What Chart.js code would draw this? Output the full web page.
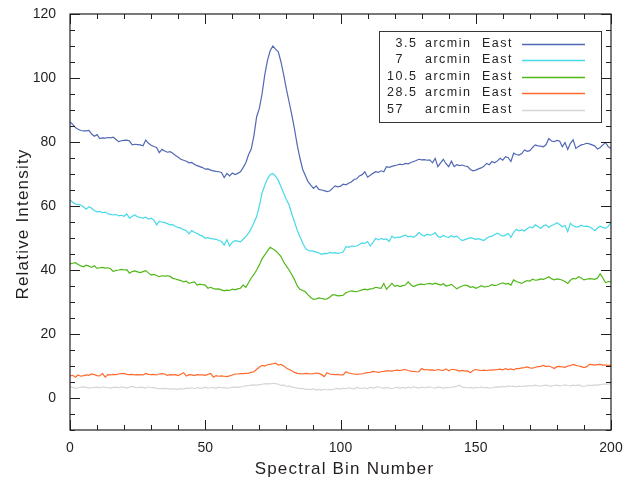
<!DOCTYPE html>
<html>
<head>
<meta charset="utf-8">
<script src="https://cdn.jsdelivr.net/npm/chart.js@4/dist/chart.umd.min.js"></script>
<style>
    html, body { margin: 0; padding: 0; background: #ffffff; }
    #spectra { display: block; }
</style>
</head>
<body>
<canvas id="spectra" width="623" height="483"></canvas>
<script>
// --- 1. DADOS ---

// bins espectrais 0..200
const bins = Array.from({ length: 201 }, (_, i) => i);

const distances = ['3.5', '7', '10.5', '28.5', '57'];

const east35 = [
    86.3, 85.5, 84.5, 84.0, 83.6, 83.5, 83.5, 83.6, 82.5, 81.8,
    82.3, 81.1, 81.3, 81.2, 81.4, 81.3, 81.5, 80.8, 80.1, 80.4,
    80.5, 80.6, 80.3, 79.1, 79.3, 79.2, 79.1, 78.8, 80.6, 79.6,
    79.0, 78.6, 78.3, 76.7, 77.7, 77.2, 76.8, 77.0, 76.5, 75.8,
    75.2, 74.6, 74.3, 74.0, 73.5, 73.6, 73.0, 72.6, 72.3, 72.0,
    71.5, 71.6, 71.2, 71.0, 70.8, 70.7, 70.5, 68.9, 70.2, 69.4,
    70.3, 69.8, 70.2, 70.7, 72.0, 73.5, 76.0, 77.8, 82.0, 87.9,
    90.5, 95.0, 101.0, 105.5, 108.5, 110.0, 109.0, 108.2, 105.0, 101.0,
    96.5, 92.5, 88.5, 84.0, 79.0, 75.0, 71.5, 69.5, 67.6, 66.5,
    65.5, 66.3, 65.2, 65.0, 64.8, 64.5, 64.7, 65.5, 66.3, 66.0,
    66.2, 66.8, 66.6, 67.1, 67.5, 68.3, 68.5, 69.4, 69.8, 70.7,
    69.0, 69.6, 70.2, 70.7, 70.5, 71.0, 70.7, 72.3, 72.1, 72.4,
    72.6, 72.8, 73.1, 72.9, 73.3, 73.2, 73.6, 73.9, 74.2, 74.6,
    74.4, 74.5, 74.3, 74.4, 73.5, 74.9, 72.3, 73.5, 74.6, 73.2,
    72.3, 74.0, 72.3, 72.9, 72.6, 72.8, 72.5, 72.3, 71.4, 71.0,
    71.2, 71.6, 71.9, 72.4, 73.3, 72.9, 73.9, 73.5, 74.1, 74.9,
    74.3, 75.4, 75.1, 73.9, 76.5, 76.1, 75.9, 76.4, 77.5, 77.1,
    77.3, 78.3, 79.1, 78.8, 78.7, 78.5, 79.2, 81.1, 80.3, 80.1,
    80.5, 80.3, 78.5, 79.8, 77.7, 79.6, 80.7, 78.0, 78.6, 79.1,
    79.3, 79.6, 79.4, 79.1, 78.8, 77.8, 78.3, 79.1, 79.8, 78.5,
    78.0
];

const east7 = [
    61.9, 61.2, 60.6, 60.5, 60.3, 59.7, 59.0, 59.8, 59.3, 58.6,
    58.2, 58.3, 57.9, 58.1, 57.6, 57.4, 57.2, 57.4, 56.9, 57.1,
    56.8, 57.5, 56.2, 56.8, 57.2, 56.6, 56.4, 56.2, 56.5, 55.9,
    56.2, 55.6, 54.1, 55.2, 55.0, 54.8, 54.5, 54.1, 54.2, 53.6,
    53.3, 53.1, 52.6, 52.3, 51.3, 52.3, 51.8, 51.4, 50.9, 50.6,
    49.9, 50.1, 49.8, 49.7, 49.6, 49.2, 48.9, 47.8, 49.5, 47.5,
    48.6, 49.2, 49.0, 48.8, 49.6, 50.4, 51.5, 53.0, 54.8, 56.7,
    60.0, 64.0, 66.5, 68.5, 69.8, 70.2, 69.3, 68.0, 66.0, 64.0,
    62.0, 60.3, 57.5, 55.0, 52.5, 50.4, 48.5, 46.8, 46.1, 46.0,
    45.9, 45.6, 45.3, 44.9, 45.2, 45.1, 45.5, 45.3, 45.4, 45.2,
    45.4, 45.6, 47.3, 47.1, 47.5, 47.4, 47.5, 48.0, 48.5, 48.3,
    48.9, 47.5, 48.6, 49.9, 49.4, 49.9, 49.6, 49.7, 48.9, 50.6,
    50.0, 50.3, 50.2, 50.6, 50.9, 50.4, 50.6, 50.2, 50.8, 51.7,
    51.0, 50.6, 51.2, 50.9, 51.1, 51.7, 50.5, 50.2, 50.8, 50.4,
    50.2, 50.7, 50.3, 50.6, 49.8, 49.2, 49.5, 49.8, 50.1, 49.9,
    49.6, 49.8, 49.5, 49.2, 49.9, 50.4, 50.6, 51.1, 51.5, 51.0,
    50.6, 50.9, 51.4, 50.2, 51.8, 52.7, 52.2, 52.5, 52.2, 52.9,
    53.5, 53.2, 54.1, 53.6, 53.0, 53.8, 54.1, 53.3, 53.9, 54.2,
    54.8, 54.2, 53.5, 53.9, 52.0, 54.6, 53.8, 53.5, 53.5, 54.0,
    53.6, 53.7, 53.5, 53.0, 52.3, 53.1, 53.7, 53.3, 53.0, 53.7,
    54.8
];

const east105 = [
    41.9, 42.1, 42.3, 41.7, 41.3, 41.0, 41.5, 41.2, 40.8, 41.3,
    40.5, 40.7, 40.8, 40.6, 40.7, 40.4, 39.5, 39.9, 40.0, 40.2,
    40.0, 40.1, 39.0, 39.5, 39.7, 39.4, 39.2, 39.5, 39.8, 39.1,
    38.4, 38.6, 38.3, 37.9, 38.2, 38.1, 38.2, 38.0, 37.4, 37.2,
    36.9, 36.7, 36.3, 36.5, 35.8, 36.1, 36.3, 35.3, 35.6, 35.4,
    35.3, 34.3, 34.6, 34.2, 34.0, 34.1, 33.8, 33.5, 33.7, 33.6,
    34.0, 33.8, 34.1, 34.3, 35.3, 34.6, 36.0, 37.5, 38.6, 40.0,
    41.6, 43.5, 44.7, 46.0, 47.1, 46.6, 46.0, 45.2, 44.2, 42.5,
    41.2, 40.0, 38.5, 37.0, 35.0, 34.0, 33.6, 33.2, 32.2, 31.4,
    30.8, 31.0, 31.3, 31.1, 30.9, 31.0, 31.5, 32.2, 32.2, 31.9,
    32.0, 32.1, 32.9, 33.2, 33.5, 33.3, 33.2, 33.5, 33.8, 34.0,
    33.8, 34.1, 34.2, 34.6, 34.4, 34.3, 35.8, 34.0, 34.9, 35.8,
    34.9, 35.2, 34.8, 35.1, 35.3, 36.3, 35.4, 34.8, 35.2, 35.5,
    35.6, 35.4, 35.7, 35.8, 35.5, 35.9, 35.6, 35.3, 35.7, 35.0,
    35.2, 35.5, 34.8, 34.1, 34.6, 35.0, 35.3, 35.1, 34.6, 34.8,
    34.3, 34.6, 35.1, 34.7, 34.8, 35.0, 35.4, 35.1, 35.3, 35.7,
    36.0, 35.6, 35.8, 35.3, 36.9, 36.4, 36.1, 35.8, 36.3, 36.7,
    36.5, 37.1, 36.8, 36.9, 37.2, 37.1, 37.4, 37.9, 37.3, 36.9,
    37.2, 37.1, 36.8, 36.4, 35.8, 36.8, 37.4, 37.2, 37.9, 37.5,
    36.9, 37.1, 37.3, 37.2, 37.1, 37.5, 38.8, 37.5, 36.0, 36.4,
    36.3
];

const east285 = [
    6.9, 7.1, 6.5, 7.2, 6.8, 7.0, 7.2, 7.1, 7.5, 7.3,
    7.0, 6.9, 7.7, 6.5, 7.3, 7.2, 7.4, 7.3, 7.5, 7.6,
    7.7, 7.4, 7.3, 7.4, 7.2, 7.3, 7.2, 7.2, 7.7, 7.4,
    7.3, 7.4, 7.2, 7.5, 7.6, 7.5, 7.1, 7.3, 7.2, 7.3,
    7.0, 7.4, 7.9, 6.9, 7.3, 7.2, 7.0, 7.3, 7.2, 7.2,
    7.1, 7.4, 7.7, 6.5, 7.0, 6.8, 6.9, 6.8, 6.7, 6.9,
    7.2, 7.5, 7.5, 7.6, 7.6, 7.7, 7.8, 8.0, 8.2, 9.0,
    9.6, 10.2, 10.0, 10.4, 10.5, 10.7, 10.9, 10.3, 10.5, 10.0,
    9.4, 8.9, 8.5, 8.0, 7.7, 7.6, 7.5, 7.7, 7.6, 7.5,
    7.6, 7.8, 7.7, 7.3, 6.7, 7.9, 7.5, 7.4, 7.3, 7.4,
    7.2, 7.2, 8.2, 7.8, 7.6, 7.5, 7.4, 7.5, 7.5, 7.8,
    7.9, 8.0, 8.3, 8.2, 8.0, 8.2, 8.3, 8.5, 8.5, 8.4,
    8.6, 8.7, 8.6, 8.8, 8.9, 8.6, 8.4, 8.3, 8.2, 8.2,
    9.2, 8.8, 8.9, 8.7, 8.8, 8.6, 8.9, 8.7, 8.6, 9.1,
    8.5, 8.9, 8.9, 8.7, 8.4, 8.6, 8.4, 8.5, 7.9, 8.6,
    8.9, 8.7, 8.6, 8.7, 8.6, 8.7, 8.7, 8.8, 8.9, 9.0,
    8.8, 9.2, 8.9, 9.1, 8.8, 9.2, 9.2, 9.4, 9.5, 9.7,
    9.4, 9.3, 9.6, 9.8, 9.9, 10.2, 9.8, 10.0, 9.7, 9.2,
    9.8, 9.9, 9.7, 9.6, 10.0, 10.1, 10.5, 10.2, 10.0, 9.8,
    9.5, 9.8, 10.5, 10.4, 10.3, 10.4, 10.5, 10.3, 10.3, 10.2,
    10.2
];

const east57 = [
    3.5, 3.3, 3.0, 3.2, 3.4, 3.5, 3.3, 3.1, 3.2, 3.3,
    3.4, 3.2, 3.5, 3.3, 3.2, 3.1, 3.3, 3.4, 3.2, 3.5,
    3.3, 3.1, 3.4, 3.6, 3.3, 3.2, 3.4, 3.3, 3.1, 3.5,
    3.2, 3.3, 3.0, 2.9, 2.9, 3.0, 2.9, 2.8, 2.9, 2.8,
    2.7, 3.0, 2.8, 3.1, 3.0, 3.2, 2.9, 3.3, 3.0, 3.1,
    3.4, 3.1, 3.2, 3.3, 3.0, 3.4, 3.2, 3.3, 3.0, 3.2,
    3.3, 3.4, 3.3, 3.5, 3.6, 3.8, 3.9, 4.0, 4.1, 4.0,
    4.2, 4.3, 4.4, 4.5, 4.4, 4.6, 4.5, 4.3, 3.9, 4.1,
    3.6, 3.8, 3.4, 3.3, 3.1, 2.9, 3.0, 2.8, 2.7, 2.6,
    2.9, 2.5, 2.7, 2.4, 2.8, 2.5, 2.7, 2.6, 2.9, 3.0,
    2.8, 3.1, 2.9, 3.2, 3.0, 2.8, 3.3, 3.1, 3.0, 3.2,
    2.9, 3.4, 3.1, 3.3, 3.5, 3.2, 3.0, 3.3, 3.1, 2.9,
    3.2, 3.4, 3.0, 3.3, 3.1, 3.4, 3.2, 3.5, 3.3, 3.1,
    3.4, 3.2, 3.3, 3.5, 3.2, 3.1, 3.4, 3.3, 3.1, 3.3,
    3.2, 3.4, 3.5, 3.7, 4.0, 3.4, 3.3, 3.2, 3.3, 3.1,
    3.3, 3.2, 3.4, 3.2, 3.3, 3.1, 3.2, 3.4, 3.5, 3.4,
    3.6, 3.5, 3.8, 3.6, 3.7, 3.5, 3.7, 3.6, 3.8, 3.7,
    3.9, 3.8, 4.0, 3.8, 3.7, 3.9, 4.0, 3.8, 3.7, 3.9,
    4.0, 3.8, 3.9, 4.1, 3.9, 3.8, 4.0, 3.9, 4.1, 3.8,
    3.6, 3.9, 4.0, 3.9, 4.1, 4.0, 4.2, 4.3, 4.4, 4.3,
    4.5
];

// marcas dos eixos
const xTickValues = [0, 50, 100, 150, 200];
const yTickValues = [0, 20, 40, 60, 80, 100, 120];

// --- 2. ESTILO ---
const INK = '#231f20';
const LINE_COLORS = ['#5168b4', '#45d9e8', '#4fb716', '#ff6a2c', '#d6d6d6'];
const LABEL_FONT = '"Liberation Sans", Arial, Helvetica, sans-serif';

// ticks internos (maiores e menores) + moldura, como no IDL
const frameTicks = {
    id: 'frameTicks',
    afterDatasetsDraw(chart) {
        const { ctx, chartArea: a, scales: { x, y } } = chart;
        ctx.save();
        ctx.strokeStyle = INK;
        ctx.lineWidth = 1.2;
        ctx.strokeRect(a.left, a.top, a.right - a.left, a.bottom - a.top);

        ctx.lineWidth = 1;
        ctx.beginPath();
        for (let v = x.min; v <= x.max; v += 10) {
            const px = Math.round(x.getPixelForValue(v)) + 0.5;
            const len = v % 50 === 0 ? 10 : 5;
            ctx.moveTo(px, a.bottom); ctx.lineTo(px, a.bottom - len);
            ctx.moveTo(px, a.top); ctx.lineTo(px, a.top + len);
        }
        for (let v = y.min; v <= y.max; v += 5) {
            const py = Math.round(y.getPixelForValue(v)) + 0.5;
            const len = v % 20 === 0 ? 10 : 5;
            ctx.moveTo(a.left, py); ctx.lineTo(a.left + len, py);
            ctx.moveTo(a.right, py); ctx.lineTo(a.right - len, py);
        }
        ctx.stroke();
        ctx.restore();
    }
};

// títulos dos eixos (com espaçamento de letras, fonte larga do original)
const axisTitles = {
    id: 'axisTitles',
    afterDraw(chart) {
        const { ctx, chartArea: a } = chart;
        ctx.save();
        ctx.fillStyle = INK;
        ctx.font = '17px ' + LABEL_FONT;
        ctx.letterSpacing = '1.2px';
        ctx.textAlign = 'center';
        ctx.textBaseline = 'alphabetic';
        ctx.fillText('Spectral Bin Number', (a.left + a.right) / 2 + 4, 474);

        ctx.translate(28, (a.top + a.bottom) / 2 + 2);
        ctx.rotate(-Math.PI / 2);
        ctx.fillText('Relative Intensity', 0, 0);
        ctx.restore();
    }
};

// legenda em caixa, números alinhados pelo ponto decimal
const boxLegend = {
    id: 'boxLegend',
    afterDraw(chart) {
        const { ctx, chartArea: a } = chart;
        const boxRight = a.right - 10;
        const boxLeft = boxRight - 222;
        const boxTop = a.top + 17;
        const rowH = 16.5;

        ctx.save();
        ctx.fillStyle = '#ffffff';
        ctx.fillRect(boxLeft, boxTop, boxRight - boxLeft, 91);
        ctx.strokeStyle = '#3a3536';
        ctx.lineWidth = 1;
        ctx.strokeRect(boxLeft + 0.5, boxTop + 0.5, boxRight - boxLeft, 91);

        ctx.font = '12.5px ' + LABEL_FONT;
        ctx.letterSpacing = '1.5px';
        ctx.fillStyle = INK;
        ctx.textBaseline = 'middle';

        distances.forEach((d, i) => {
            const yRow = boxTop + 12.5 + i * rowH;
            const [whole, frac] = d.split('.');
            ctx.textAlign = 'right';
            ctx.fillText(whole, boxLeft + 25, yRow);
            ctx.textAlign = 'left';
            if (frac) ctx.fillText('.' + frac, boxLeft + 25, yRow);
            ctx.fillText('arcmin', boxLeft + 46, yRow);
            ctx.fillText('East', boxLeft + 103, yRow);

            ctx.strokeStyle = LINE_COLORS[i];
            ctx.lineWidth = 1.4;
            ctx.beginPath();
            ctx.moveTo(boxLeft + 143, Math.round(yRow) + 0.5);
            ctx.lineTo(boxLeft + 206, Math.round(yRow) + 0.5);
            ctx.stroke();
        });
        ctx.restore();
    }
};

// --- 3. GRÁFICO ---
document.addEventListener('DOMContentLoaded', function () {
    const series = [east35, east7, east105, east285, east57];

    const datasets = series.map((values, i) => ({
        label: distances[i] + ' arcmin East',
        data: values,
        borderColor: LINE_COLORS[i],
        borderWidth: 1.2,
        pointRadius: 0,
        tension: 0,
        fill: false
    }));

    new Chart(document.getElementById('spectra').getContext('2d'), {
        type: 'line',
        data: { labels: bins, datasets: datasets },
        options: {
            responsive: false,
            devicePixelRatio: 1,
            animation: false,
            layout: { padding: { left: 0, right: 12, top: 14, bottom: 0 } },
            plugins: { legend: { display: false }, tooltip: { enabled: false } },
            scales: {
                x: {
                    type: 'linear',
                    min: 0,
                    max: 200,
                    afterBuildTicks: s => { s.ticks = xTickValues.map(v => ({ value: v })); },
                    // altura fixa e sem reserva extra para o rótulo "200"
                    afterFit: s => { s.height = 53; s.paddingRight = 0; s.paddingLeft = 0; },
                    grid: { display: false },
                    border: { display: false },
                    ticks: { color: INK, font: { family: LABEL_FONT, size: 14 }, padding: 2, maxRotation: 0 }
                },
                y: {
                    min: -10,
                    max: 120,
                    afterBuildTicks: s => { s.ticks = yTickValues.map(v => ({ value: v })); },
                    afterFit: s => { s.width = 70; s.paddingTop = 0; s.paddingBottom = 0; },
                    grid: { display: false },
                    border: { display: false },
                    ticks: { color: INK, font: { family: LABEL_FONT, size: 14 }, padding: 6 }
                }
            }
        },
        plugins: [frameTicks, boxLegend, axisTitles]
    });
});
</script>
</body>
</html>
